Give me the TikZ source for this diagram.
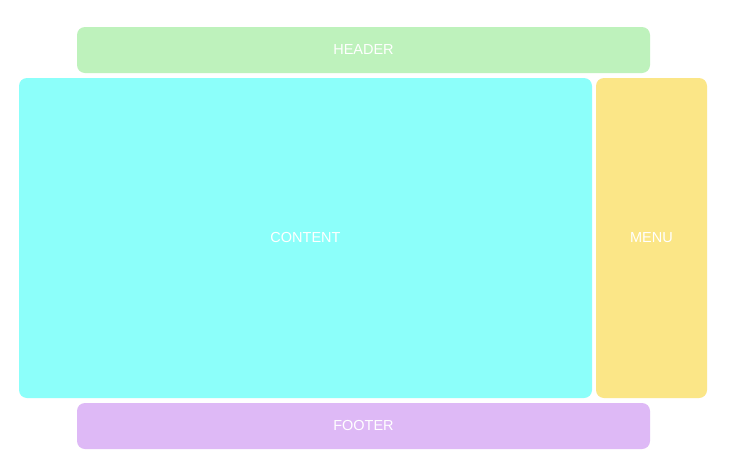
\documentclass[tikz,border=0pt]{standalone}
\usepackage{fontspec}
\setmainfont{Liberation Sans}
\definecolor{hdr}{HTML}{BEF2BC}
\definecolor{cnt}{HTML}{8CFFFA}
\definecolor{mnu}{HTML}{FBE687}
\definecolor{ftr}{HTML}{DEB9F6}
\begin{document}
\begin{tikzpicture}[x=1pt,y=-1pt,
  area/.style={rounded corners=8pt,inner sep=0pt,outer sep=0pt,text=white,font=\fontsize{14.5}{17}\selectfont}]
\useasboundingbox[fill=white] (0,0) rectangle (732,469);
\fill[hdr,rounded corners=8pt] (77,27) rectangle (650,73);
\fill[cnt,rounded corners=8pt] (19,78) rectangle (592,398);
\fill[mnu,rounded corners=8pt] (596,78) rectangle (707,398);
\fill[ftr,rounded corners=8pt] (77,403) rectangle (650,449);
\node[area] (header) at (363.5,50) {HEADER};
\node[area] (content) at (305.5,238) {CONTENT};
\node[area] (menu) at (651.5,238) {MENU};
\node[area] (footer) at (363.5,426) {FOOTER};
\end{tikzpicture}
\end{document}
